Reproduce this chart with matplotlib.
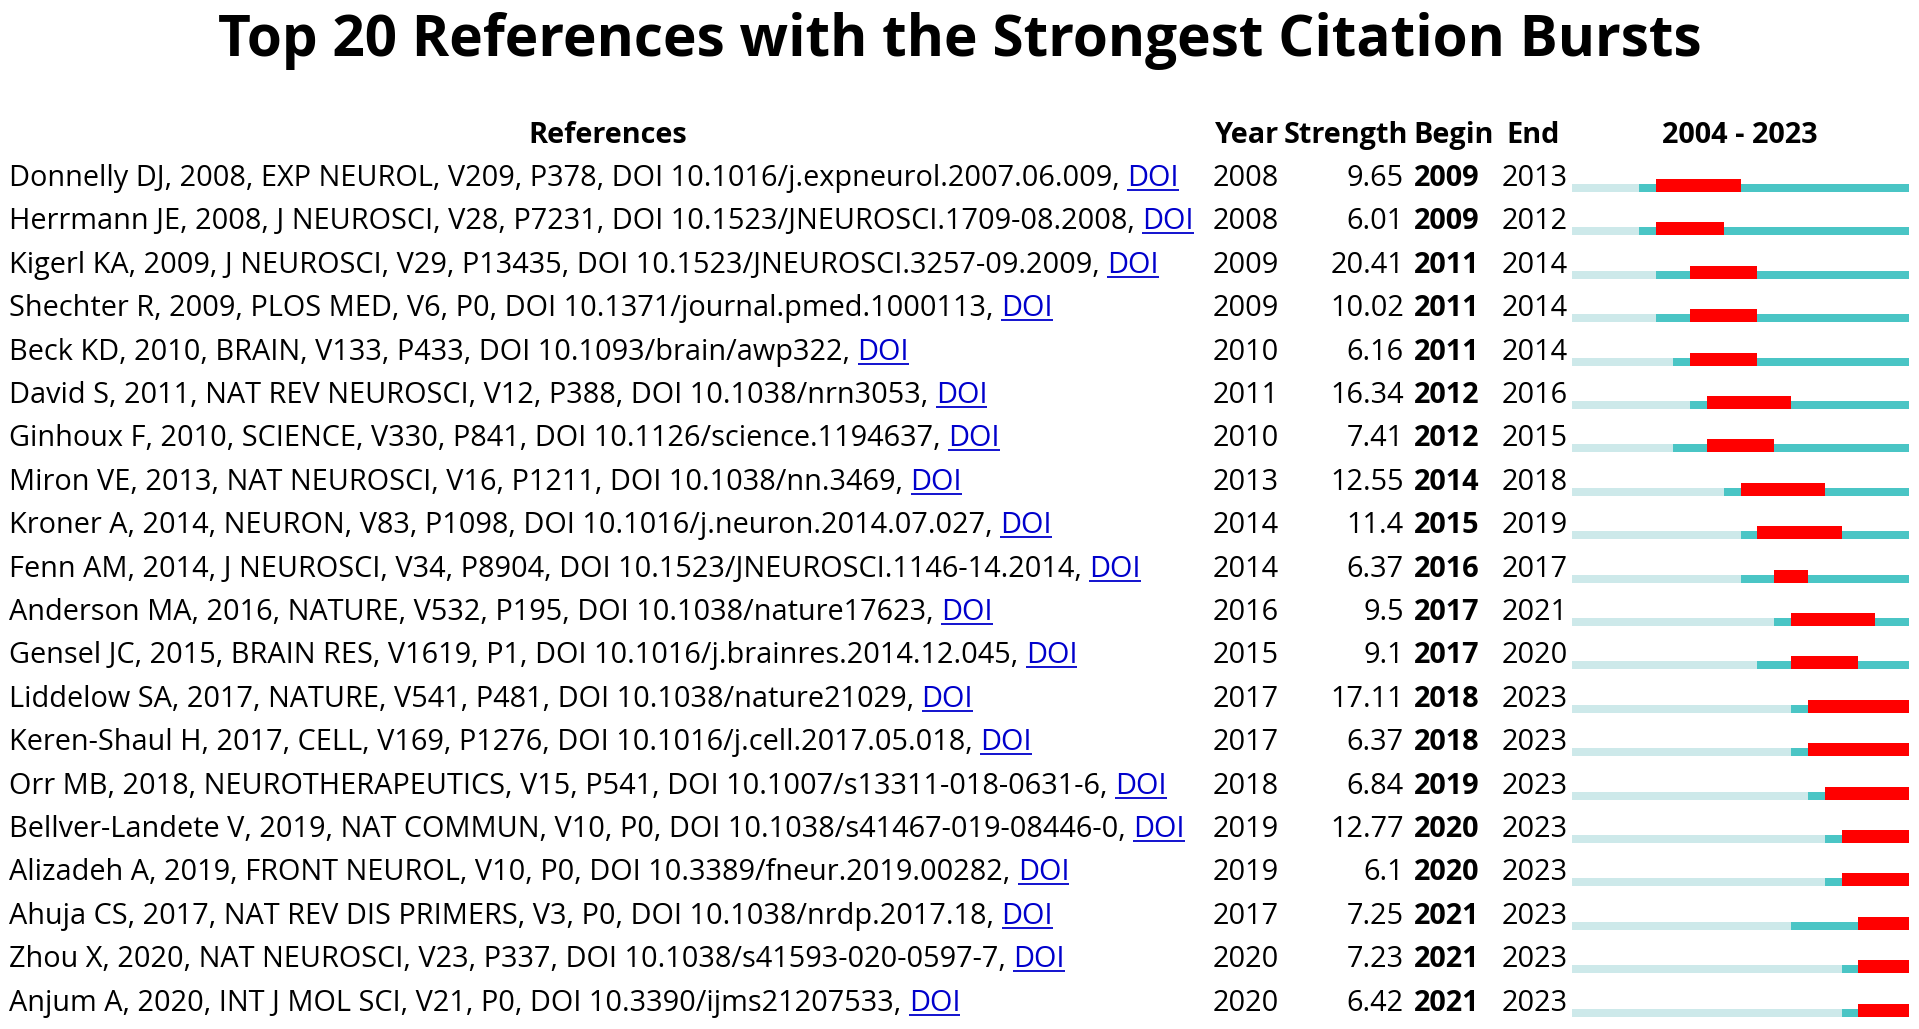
import matplotlib
matplotlib.use("Agg")
import matplotlib.pyplot as plt

plt.rcParams['font.family'] = ['Open Sans', 'DejaVu Sans']

title = "Top 20 References with the Strongest Citation Bursts"
headers = ["References", "Year", "Strength", "Begin", "End", "2004 - 2023"]

refs = [
    "Donnelly DJ, 2008, EXP NEUROL, V209, P378, DOI 10.1016/j.expneurol.2007.06.009",
    "Herrmann JE, 2008, J NEUROSCI, V28, P7231, DOI 10.1523/JNEUROSCI.1709-08.2008",
    "Kigerl KA, 2009, J NEUROSCI, V29, P13435, DOI 10.1523/JNEUROSCI.3257-09.2009",
    "Shechter R, 2009, PLOS MED, V6, P0, DOI 10.1371/journal.pmed.1000113",
    "Beck KD, 2010, BRAIN, V133, P433, DOI 10.1093/brain/awp322",
    "David S, 2011, NAT REV NEUROSCI, V12, P388, DOI 10.1038/nrn3053",
    "Ginhoux F, 2010, SCIENCE, V330, P841, DOI 10.1126/science.1194637",
    "Miron VE, 2013, NAT NEUROSCI, V16, P1211, DOI 10.1038/nn.3469",
    "Kroner A, 2014, NEURON, V83, P1098, DOI 10.1016/j.neuron.2014.07.027",
    "Fenn AM, 2014, J NEUROSCI, V34, P8904, DOI 10.1523/JNEUROSCI.1146-14.2014",
    "Anderson MA, 2016, NATURE, V532, P195, DOI 10.1038/nature17623",
    "Gensel JC, 2015, BRAIN RES, V1619, P1, DOI 10.1016/j.brainres.2014.12.045",
    "Liddelow SA, 2017, NATURE, V541, P481, DOI 10.1038/nature21029",
    "Keren-Shaul H, 2017, CELL, V169, P1276, DOI 10.1016/j.cell.2017.05.018",
    "Orr MB, 2018, NEUROTHERAPEUTICS, V15, P541, DOI 10.1007/s13311-018-0631-6",
    "Bellver-Landete V, 2019, NAT COMMUN, V10, P0, DOI 10.1038/s41467-019-08446-0",
    "Alizadeh A, 2019, FRONT NEUROL, V10, P0, DOI 10.3389/fneur.2019.00282",
    "Ahuja CS, 2017, NAT REV DIS PRIMERS, V3, P0, DOI 10.1038/nrdp.2017.18",
    "Zhou X, 2020, NAT NEUROSCI, V23, P337, DOI 10.1038/s41593-020-0597-7",
    "Anjum A, 2020, INT J MOL SCI, V21, P0, DOI 10.3390/ijms21207533",
]
years = [2008, 2008, 2009, 2009, 2010, 2011, 2010, 2013, 2014, 2014,
         2016, 2015, 2017, 2017, 2018, 2019, 2019, 2017, 2020, 2020]
strengths = [9.65, 6.01, 20.41, 10.02, 6.16, 16.34, 7.41, 12.55, 11.4, 6.37,
             9.5, 9.1, 17.11, 6.37, 6.84, 12.77, 6.1, 7.25, 7.23, 6.42]
begins = [2009, 2009, 2011, 2011, 2011, 2012, 2012, 2014, 2015, 2016,
          2017, 2017, 2018, 2018, 2019, 2020, 2020, 2021, 2021, 2021]
ends = [2013, 2012, 2014, 2014, 2014, 2016, 2015, 2018, 2019, 2017,
        2021, 2020, 2023, 2023, 2023, 2023, 2023, 2023, 2023, 2023]
start_year, end_year = 2004, 2023

W, H = 1919, 1029
row0, row_h = 175, 43.4   # pixel y of first row, row spacing
ylim = ((H - row0) / row_h, -row0 / row_h)
dy = 0.08                  # nudge text down a little

fig = plt.figure(figsize=(W / 100, H / 100), dpi=100)
ax = fig.add_axes([0, 0, 1, 1])
ax.set_xlim(0, W)
ax.set_ylim(*ylim)
ax.axis('off')
renderer = fig.canvas.get_renderer()


def width_px(s, size, weight='normal'):
    t = ax.text(0, 0, s, fontsize=size, fontweight=weight)
    w = t.get_window_extent(renderer).width
    t.remove()
    return w


# fit font sizes to the reference widths
fs = 20 * 1168 / width_px(refs[0] + ", DOI", 20)
tfs = 40 * 1483 / width_px(title, 40, 'bold')

ax.text(W / 2, (41 - row0) / row_h, title, fontsize=tfs, fontweight='bold',
        ha='center', va='center')

hy = -1 + dy
ax.text(608, hy, headers[0], fontsize=fs, fontweight='bold', ha='center', va='center')
ax.text(1247, hy, headers[1], fontsize=fs, fontweight='bold', ha='center', va='center')
ax.text(1346, hy, headers[2], fontsize=fs, fontweight='bold', ha='center', va='center')
ax.text(1454, hy, headers[3], fontsize=fs, fontweight='bold', ha='center', va='center')
ax.text(1533, hy, headers[4], fontsize=fs, fontweight='bold', ha='center', va='center')
ax.text(1740, hy, headers[5], fontsize=fs, fontweight='bold', ha='center', va='center')

inv = ax.transData.inverted()
for i, ref in enumerate(refs):
    y = i + dy
    ax.text(9, y, ref + ", ", fontsize=fs, va='center')
    wfull = width_px(ref + ", DOI", fs)
    xr = 9 + wfull
    d = ax.text(xr, y, "DOI", fontsize=fs, va='center', ha='right', color='#0000cc')
    bb = d.get_window_extent(renderer)
    (x0, yb), (x1, _) = inv.transform([(bb.x0, bb.y0 + 3), (bb.x1, bb.y0 + 3)])
    ax.plot([x0, x1], [yb, yb], color='#0000cc', lw=1.3, solid_capstyle='butt')

    ax.text(1213, y, str(years[i]), fontsize=fs, va='center', ha='left')
    ax.text(1404, y, f"{strengths[i]:g}", fontsize=fs, va='center', ha='right')
    ax.text(1414, y, str(begins[i]), fontsize=fs, va='center', ha='left', fontweight='bold')
    ax.text(1502, y, str(ends[i]), fontsize=fs, va='center', ha='left')

# timeline bars
tl = fig.add_axes([1572 / W, 0, (1909 - 1572) / W, 1])
tl.set_xlim(start_year, end_year + 1)
tl.set_ylim(*ylim)
tl.axis('off')
rows = list(range(len(refs)))
light = [y - start_year for y in years]
teal = [end_year + 1 - y for y in years]
burst = [e + 1 - b for b, e in zip(begins, ends)]
tl.barh([r + 0.30 for r in rows], light, left=start_year, height=0.184, color='#cde9ea')
tl.barh([r + 0.30 for r in rows], teal, left=years, height=0.184, color='#4ac5c5')
tl.barh([r + 0.24 for r in rows], burst, left=begins, height=0.30, color='#ff0000')

fig.savefig("out.png", dpi=100)
